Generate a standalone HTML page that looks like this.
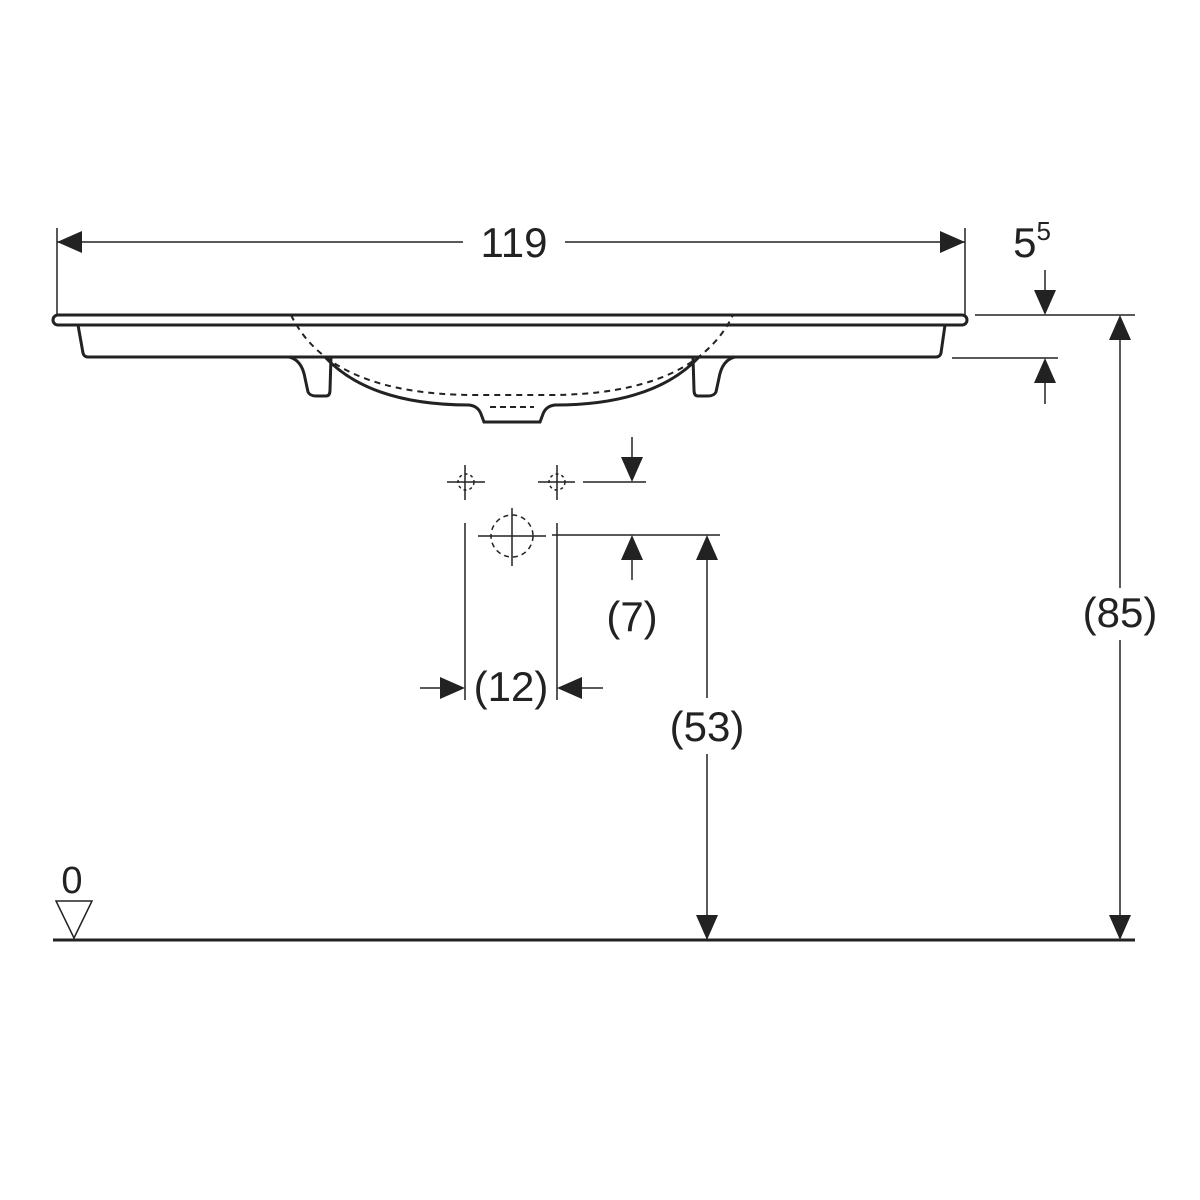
<!DOCTYPE html>
<html><head><style>body{margin:0;background:#fff}svg{display:block}text{font-family:"Liberation Sans",sans-serif;fill:#222}</style></head>
<body>
<svg width="1200" height="1200" viewBox="0 0 1200 1200" xmlns="http://www.w3.org/2000/svg">
<g stroke="#222" fill="none" stroke-width="2">
<path d="M58 315 H962 a5 5 0 0 1 0 10 H58 a5 5 0 0 1 0 -10 Z" stroke-width="3"/>
<path d="M78 325 L83 353 Q84 357 88 357 H936 Q940 357 941 353 L945 325" stroke-width="3"/>
<path d="M289 357 Q302 360 305 378 L308 392 Q310 396 316 396 H326 Q330 396 330 390 L331 357" stroke-width="3"/>
<path d="M735 357 Q722 360 719 378 L716 392 Q714 396 708 396 H698 Q694 396 694 390 L693 357" stroke-width="3"/>
<path d="M325 357 Q370 405 469 405 Q478 406 481 414 L484 422 H540 L543 414 Q546 406 555 405 Q654 405 699 357" stroke-width="3"/>
<path d="M291 315 Q330 395 475 395 H549 Q694 395 733 315" stroke-dasharray="6 5"/>
<path d="M490 407 H534" stroke-dasharray="6 4"/>
<path d="M57 228 V315 M965 228 V315 M57 242 H463 M565 242 H965" stroke-width="1.5"/>
<path d="M975 315 H1135 M952 358 H1058 M1045 270 V312 M1045 362 V404" stroke-width="1.5"/>
<path d="M1120 318 V588 M1120 640 V938" stroke-width="1.5"/>
<path d="M447 482 H485 M465 465 V500 M538 482 H575 M557 465 V500 M583 482 H646 M632 437 V480" stroke-width="1.5"/>
<circle cx="466" cy="482" r="8" stroke-dasharray="3 3" stroke-width="1.5"/>
<circle cx="557" cy="482" r="8" stroke-dasharray="3 3" stroke-width="1.5"/>
<circle cx="512" cy="536" r="21" stroke-dasharray="5 4" stroke-width="1.5"/>
<path d="M478 536 H546 M512 508 V566 M465 523 V700 M557 523 V700 M552 535 H720 M632 538 V580" stroke-width="1.5"/>
<path d="M420 688 H463 M560 688 H603" stroke-width="1.5"/>
<path d="M707 538 V698 M707 754 V938" stroke-width="1.5"/>
<path d="M53 940 H1135" stroke-width="3"/>
<path d="M56 901 H92 L74 938 Z" stroke-width="1.5"/>
</g>
<g fill="#222">
<path d="M57 242 l25 -11 v22 z"/><path d="M965 242 l-25 -11 v22 z"/>
<path d="M1045 315 l-11 -25 h22 z"/><path d="M1045 358 l-11 25 h22 z"/>
<path d="M1120 315 l-11 25 h22 z"/><path d="M1120 940 l-11 -25 h22 z"/>
<path d="M632 482 l-11 -25 h22 z"/><path d="M632 535 l-11 25 h22 z"/>
<path d="M465 688 l-25 -11 v22 z"/><path d="M557 688 l25 -11 v22 z"/>
<path d="M707 535 l-11 25 h22 z"/><path d="M707 940 l-11 -25 h22 z"/>
</g>
<g font-size="42" text-anchor="middle">
<text x="514" y="257">119</text>
<text x="1032" y="257">5<tspan font-size="26" dy="-17">5</tspan></text>
<text x="632" y="631">(7)</text>
<text x="511" y="701">(12)</text>
<text x="707" y="741">(53)</text>
<text x="1120" y="627">(85)</text>
<text x="72" y="893" font-size="38">0</text>
</g>
</svg>
</body></html>
